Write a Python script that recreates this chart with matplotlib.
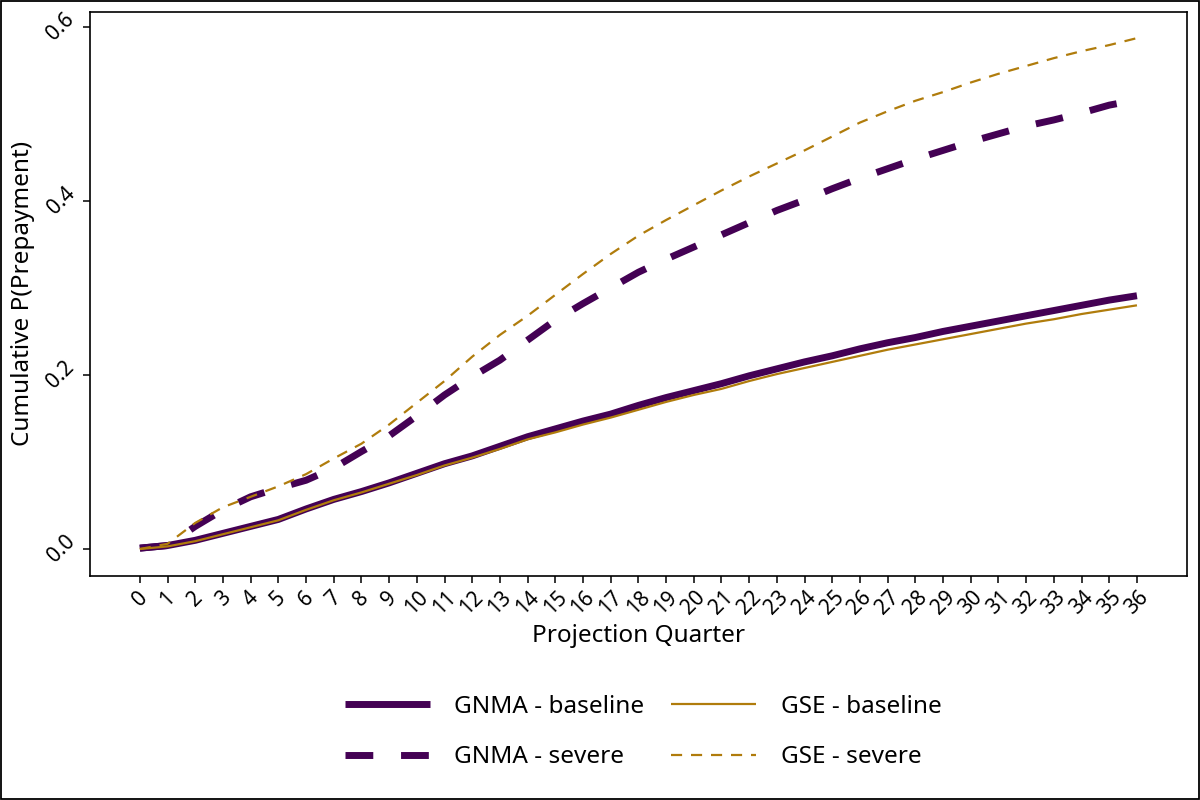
import matplotlib
matplotlib.use("Agg")
import matplotlib.pyplot as plt
from matplotlib.patches import Rectangle

plt.rcParams['font.family'] = ['Noto Sans', 'DejaVu Sans']

quarters = list(range(37))

gnma_baseline = [0.001, 0.004, 0.010, 0.018, 0.026, 0.034, 0.046, 0.057, 0.066, 0.076,
                 0.087, 0.098, 0.107, 0.118, 0.129, 0.138, 0.147, 0.155, 0.165, 0.174,
                 0.182, 0.190, 0.199, 0.207, 0.215, 0.222, 0.230, 0.237, 0.243, 0.250,
                 0.256, 0.262, 0.268, 0.274, 0.280, 0.286, 0.291]
gse_baseline = [0.000, 0.003, 0.009, 0.017, 0.025, 0.033, 0.045, 0.056, 0.065, 0.075,
                0.085, 0.096, 0.105, 0.115, 0.126, 0.134, 0.143, 0.151, 0.160, 0.169,
                0.177, 0.184, 0.193, 0.201, 0.208, 0.215, 0.222, 0.229, 0.235, 0.241,
                0.247, 0.253, 0.259, 0.264, 0.270, 0.275, 0.280]
gnma_severe = [0.001, 0.004, 0.026, 0.045, 0.060, 0.070, 0.079, 0.093, 0.112, 0.130,
               0.153, 0.177, 0.198, 0.217, 0.240, 0.263, 0.282, 0.300, 0.318, 0.333,
               0.347, 0.361, 0.375, 0.389, 0.401, 0.414, 0.426, 0.437, 0.448, 0.458,
               0.468, 0.477, 0.486, 0.493, 0.501, 0.510, 0.516]
gse_severe = [0.000, 0.006, 0.030, 0.048, 0.060, 0.072, 0.086, 0.104, 0.121, 0.143,
              0.168, 0.193, 0.221, 0.246, 0.268, 0.292, 0.316, 0.339, 0.360, 0.378,
              0.395, 0.412, 0.428, 0.443, 0.458, 0.474, 0.490, 0.503, 0.515, 0.525,
              0.536, 0.546, 0.555, 0.564, 0.572, 0.579, 0.587]

purple = "#440154"
gold = "#B07C0C"

fig = plt.figure(figsize=(12, 8), dpi=100)
ax = fig.add_axes([0.075, 0.28, 0.914, 0.705])

ax.plot(quarters, gnma_baseline, color=purple, lw=5, solid_capstyle='butt', label="GNMA - baseline")
ax.plot(quarters, gnma_severe, color=purple, lw=5, ls=(0, (4, 4)), dash_capstyle='butt', label="GNMA - severe")
ax.plot(quarters, gse_baseline, color=gold, lw=1.6, solid_capstyle='butt', label="GSE - baseline")
ax.plot(quarters, gse_severe, color=gold, lw=1.6, ls=(0, (5, 4)), dash_capstyle='butt', label="GSE - severe")

ax.set_xlim(-1.8, 37.8)
ax.set_ylim(-0.031, 0.617)
ax.set_xticks(quarters)
ax.set_xticklabels([str(q) for q in quarters], rotation=45, ha='center')
ax.set_yticks([0.0, 0.2, 0.4, 0.6])
ax.set_yticklabels(["0.0", "0.2", "0.4", "0.6"], rotation=45, va='center')
ax.tick_params(labelsize=15, length=5, width=1.1, colors='black', pad=3)
ax.set_xlabel("Projection Quarter", fontsize=17.5, labelpad=4)
ax.set_ylabel("Cumulative P(Prepayment)", fontsize=17.5, labelpad=6)
for s in ax.spines.values():
    s.set_linewidth(1.2)

handles, labels = ax.get_legend_handles_labels()
fig.legend(handles, labels, loc='center', bbox_to_anchor=(0.536, 0.085), ncol=2,
           frameon=False, fontsize=17.5, handlelength=3.5, handletextpad=1.0,
           columnspacing=1.1, labelspacing=1.1)

fig.patches.append(Rectangle((0.001, 0.001), 0.998, 0.998, transform=fig.transFigure,
                             fill=False, edgecolor='black', lw=1.3))

fig.savefig("out.png", dpi=100)
